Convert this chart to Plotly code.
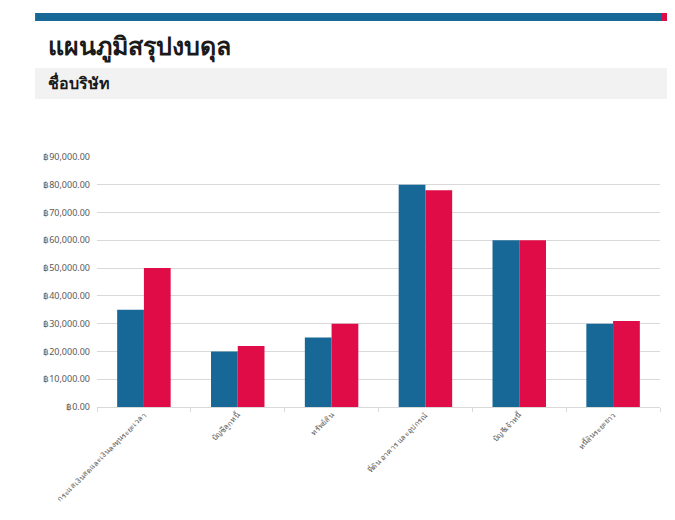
import plotly.graph_objects as go

# ---- DATA ----
categories = [
    'กระแสเงินสดและเงินลงทุนระยะเวลา',
    'บัญชีลูกหนี้',
    'ทรัพย์สิน',
    'ที่ดิน อาคาร และอุปกรณ์',
    'บัญชีเจ้าหนี้',
    'หนี้สินระยะยาว',
]
series_a = [35000, 20000, 25000, 80000, 60000, 30000]
series_b = [50000, 22000, 30000, 78000, 60000, 31000]

BLUE = '#176896'
RED = '#E00C47'

fig = go.Figure()
fig.add_trace(go.Bar(x=categories, y=series_a, marker=dict(color=BLUE, line=dict(width=0)), name='A'))
fig.add_trace(go.Bar(x=categories, y=series_b, marker=dict(color=RED, line=dict(width=0)), name='B'))

# header decoration (paper coords relative to the plot area)
fig.add_shape(type='rect', xref='paper', yref='paper', x0=-0.110, x1=1.02, y0=1.544, y1=1.576,
              fillcolor=BLUE, line=dict(width=0), layer='below')
fig.add_shape(type='rect', xref='paper', yref='paper', x0=1.0036, x1=1.02, y0=1.544, y1=1.576,
              fillcolor=RED, line=dict(width=0), layer='below')
fig.add_shape(type='rect', xref='paper', yref='paper', x0=-0.110, x1=1.02, y0=1.232, y1=1.356,
              fillcolor='#f2f2f2', line=dict(width=0), layer='below')

fig.add_annotation(text='<b>แผนภูมิสรุปงบดุล</b>', xref='paper', yref='paper', x=-0.091, y=1.448,
                   xanchor='left', yanchor='middle', showarrow=False,
                   font=dict(size=25, color='#1a1a1a'))
fig.add_annotation(text='<b>ชื่อบริษัท</b>', xref='paper', yref='paper', x=-0.091, y=1.296,
                   xanchor='left', yanchor='middle', showarrow=False,
                   font=dict(size=16, color='#1a1a1a'))

fig.update_layout(
    width=659, height=504,
    margin=dict(l=89, r=7, t=149, b=105),
    barmode='group', bargap=0.43, bargroupgap=0,
    showlegend=False,
    plot_bgcolor='white', paper_bgcolor='white',
    font=dict(family='Noto Sans', color='#595959'),
)
fig.update_yaxes(range=[0, 90000], dtick=10000, tickprefix='฿', tickformat=',.2f',
                 gridcolor='#d9d9d9', gridwidth=1, zeroline=False, showline=False, automargin=False,
                 tickfont=dict(size=9, color='#595959'), ticks='', ticklabelstandoff=6)
fig.update_xaxes(tickangle=-45, tickfont=dict(size=7.5, color='#595959'), automargin=False,
                 showline=True, linecolor='#d9d9d9', ticks='outside', ticklen=4, tickcolor='#d9d9d9',
                 tickson='boundaries')

fig.write_html("out.html")
